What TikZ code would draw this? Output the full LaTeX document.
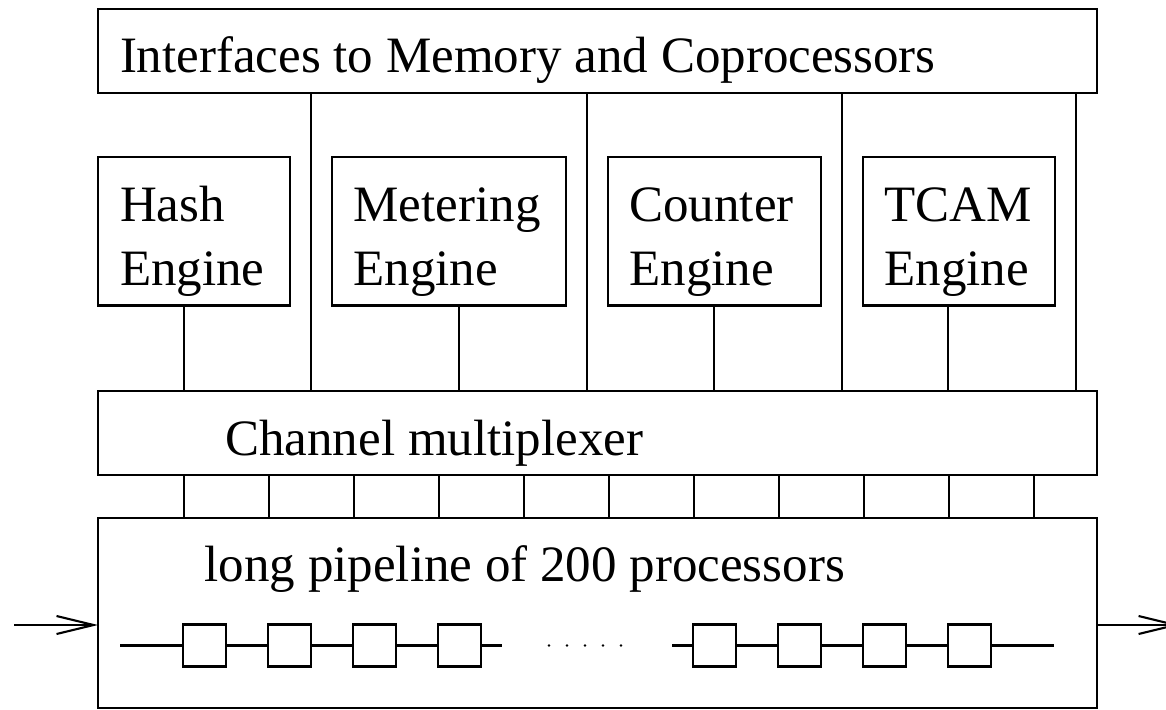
\documentclass[tikz,border=0pt]{standalone}
\usepackage{fontspec}
\setmainfont{Liberation Serif}
\usetikzlibrary{arrows.meta,calc}
\begin{document}
\begin{tikzpicture}[x=1pt,y=-1pt,
  box/.style={draw, line width=2.1pt, inner sep=0pt, outer sep=0pt, anchor=north west},
  lbl/.style={anchor=base west, inner sep=0pt, outer sep=0pt, font=\fontsize{51}{63.3}\selectfont},
  lbltwo/.style={lbl, text width=230pt, align=left},
  wire/.style={line width=2.1pt},
  stage/.style={draw, line width=2.1pt, inner sep=0pt, outer sep=0pt, minimum width=43pt, minimum height=42pt},
  flow/.style={line width=2.1pt, -{Straight Barb[length=37pt,width=18pt]}}]
\useasboundingbox (0,0) rectangle (1166,709);

% main blocks
\node[box, minimum width=999pt, minimum height=84pt]  (iface)   at (98,9)   {};
\node[box, minimum width=192pt, minimum height=148.5pt] (hash)  at (98,157) {};
\node[box, minimum width=234pt, minimum height=148.5pt] (meter) at (332,157) {};
\node[box, minimum width=213pt, minimum height=148.5pt] (counter) at (608,157) {};
\node[box, minimum width=192pt, minimum height=148.5pt] (tcam)  at (863,157) {};
\node[box, minimum width=999pt, minimum height=84pt]  (mux)     at (98,391) {};
\node[box, minimum width=999pt, minimum height=190pt] (pipe)    at (98,518) {};

% block labels
\node[lbl] (ifaceT) at ($(iface.north west)+(22,63)$) {Interfaces to Memory and Coprocessors};
\node[lbltwo] (hashT)    at ($(hash.north west)+(22,64.7)$)    {Hash\\Engine};
\node[lbltwo] (meterT)   at ($(meter.north west)+(21.6,64.7)$) {Metering\\Engine};
\node[lbltwo] (counterT) at ($(counter.north west)+(21.4,64.7)$) {Counter\\Engine};
\node[lbltwo] (tcamT)    at ($(tcam.north west)+(21.6,64.7)$)  {TCAM\\Engine};
\node[lbl] (muxT)  at ($(mux.north west)+(127.3,64)$)  {Channel multiplexer};
\node[lbl] (pipeT) at ($(pipe.north west)+(106.7,63.7)$) {long pipeline of 200 processors};

% interface buses down to the multiplexer
\foreach \dx in {213,489,744,978}
  \draw[wire] ([xshift=\dx pt]iface.south west) -- ([xshift=\dx pt]mux.north west);

% engines to the multiplexer
\draw[wire] ([xshift=86pt]hash.south west)    coordinate (eh) -- (eh |- mux.north);
\draw[wire] ([xshift=127pt]meter.south west)  coordinate (em) -- (em |- mux.north);
\draw[wire] ([xshift=106pt]counter.south west) coordinate (ec) -- (ec |- mux.north);
\draw[wire] ([xshift=85pt]tcam.south west)    coordinate (et) -- (et |- mux.north);

% multiplexer channels into the pipeline
\foreach \k in {0,...,10} {
  \pgfmathsetmacro\dx{86+85*\k}
  \draw[wire] ([xshift=\dx pt]mux.south west) -- ([xshift=\dx pt]pipe.north west);
}

% processor stages
\foreach \i/\cx in {1/204.5,2/289.5,3/374.5,4/459.5,5/714.5,6/799.5,7/884.5,8/969.5}
  \node[stage] (s\i) at (\cx,645.5) {};
\coordinate (cA) at (120,645.5);
\coordinate (cB) at (502,645.5);
\coordinate (cC) at (672,645.5);
\coordinate (cD) at (1054,645.5);
\draw[wire] (cA) -- (s1) -- (s2) -- (s3) -- (s4) -- (cB);
\draw[wire] (cC) -- (s5) -- (s6) -- (s7) -- (s8) -- (cD);
\draw[line width=2.6pt, line cap=round, dash pattern=on 0pt off 18pt] (549,645.5) -- (625,645.5);

% packet flow in and out
\coordinate (in)  at (14,625);
\coordinate (out) at (1180,625);
\draw[flow] (in) -- (in -| pipe.west);
\draw[flow] (out -| pipe.east) -- (out);
\end{tikzpicture}
\end{document}
